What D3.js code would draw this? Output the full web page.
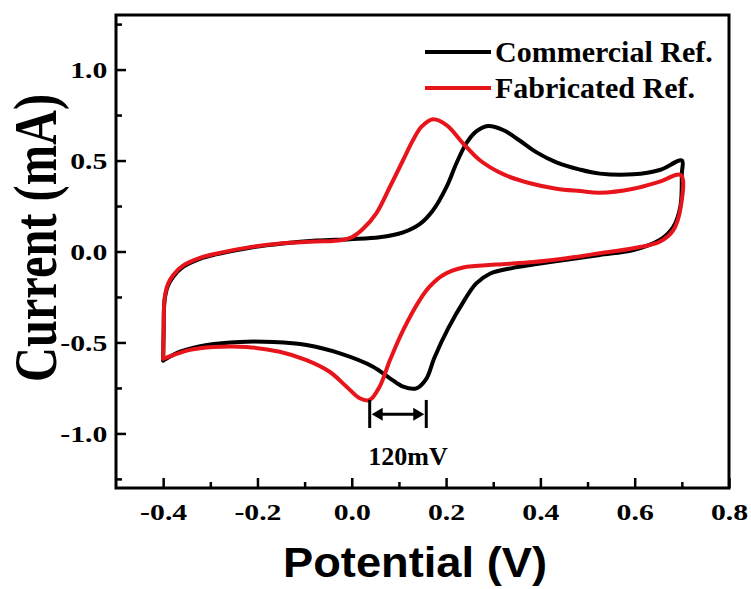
<!DOCTYPE html>
<html>
<head>
<meta charset="utf-8">
<script src="https://cdn.jsdelivr.net/npm/d3@7"></script>
<style>
  html, body { margin: 0; padding: 0; background: #ffffff; }
  svg { display: block; }
</style>
</head>
<body>
<svg id="chart" width="751" height="589"></svg>
<script>
// ---------- data ----------
const seriesNames = ["Commercial Ref.", "Fabricated Ref."];
const seriesColors = ["#000000", "#e8141c"];

// Commercial reference electrode: anodic sweep (-0.4 -> 0.7 V) then cathodic sweep back
const commercialV = [
  -0.400, -0.399, -0.397, -0.390, -0.379, -0.358, -0.322, -0.288, -0.216, -0.146, -0.075, -0.004,
   0.059,  0.109,  0.144,  0.172,  0.201,  0.222,  0.243,  0.264,  0.289,  0.321,  0.356,  0.392,
   0.434,  0.484,  0.526,  0.597,  0.653,  0.700,
   0.700,  0.697,  0.682,  0.653,  0.597,  0.526,  0.455,  0.385,  0.342,  0.293,  0.264,  0.239,
   0.205,  0.175,  0.158,  0.137,  0.109,  0.081,  0.045, -0.025, -0.096, -0.166, -0.237, -0.307,
  -0.364, -0.400
];
const commercialI = [
  -0.600, -0.450, -0.270, -0.190, -0.140, -0.085, -0.040, -0.016,  0.021,  0.044,  0.060,  0.068,
   0.078,  0.105,  0.150,  0.225,  0.355,  0.485,  0.595,  0.660,  0.690,  0.668,  0.610,  0.545,
   0.490,  0.450,  0.428,  0.424,  0.448,  0.500,
   0.430,  0.250,  0.136,  0.063,  0.008, -0.019, -0.045, -0.072, -0.090, -0.122, -0.175, -0.267,
  -0.420, -0.585, -0.700, -0.752, -0.743, -0.697, -0.633, -0.560, -0.514, -0.498, -0.497, -0.514,
  -0.551, -0.600
];

// Fabricated reference electrode
const fabricatedV = [
  -0.400, -0.399, -0.397, -0.390, -0.379, -0.358, -0.322, -0.288, -0.216, -0.146, -0.075, -0.045,
  -0.020,  0.000,  0.024,  0.052,  0.081,  0.109,  0.130,  0.148,  0.172,  0.201,  0.236,  0.271,
   0.321,  0.378,  0.434,  0.484,  0.526,  0.597,  0.653,  0.698,
   0.698,  0.682,  0.653,  0.597,  0.526,  0.455,  0.385,  0.307,  0.236,  0.194,  0.165,  0.144,
   0.109,  0.081,  0.059,  0.038,  0.017, -0.011, -0.047, -0.096, -0.153, -0.223, -0.294, -0.343,
  -0.400
];
const fabricatedI = [
  -0.590, -0.440, -0.260, -0.180, -0.130, -0.078, -0.035, -0.012,  0.024,  0.045,  0.055,  0.057,
   0.063,  0.078,  0.125,  0.210,  0.356,  0.503,  0.613,  0.686,  0.727,  0.695,  0.595,  0.503,
   0.425,  0.375,  0.345,  0.332,  0.323,  0.345,  0.384,  0.420,
   0.250,  0.118,  0.054,  0.018, -0.010, -0.037, -0.058, -0.072, -0.088, -0.129, -0.193, -0.267,
  -0.432, -0.597, -0.743, -0.816, -0.807, -0.743, -0.661, -0.597, -0.551, -0.525, -0.525, -0.541,
  -0.590
];

const xTickValues = [-0.4, -0.2, 0.0, 0.2, 0.4, 0.6, 0.8];
const xTickLabels = ["-0.4", "-0.2", "0.0", "0.2", "0.4", "0.6", "0.8"];
const xMinorTicks = [-0.3, -0.1, 0.1, 0.3, 0.5, 0.7];
const yTickValues = [-1.0, -0.5, 0.0, 0.5, 1.0];
const yTickLabels = ["-1.0", "-0.5", "0.0", "0.5", "1.0"];
const yMinorTicks = [-1.25, -0.75, -0.25, 0.25, 0.75, 1.25];

const xTitle = "Potential (V)";
const yTitle = "Current (mA)";
const annotationText = "120mV";
const separation = [0.038, 0.158];   // peak-to-peak separation shown (V)

// ---------- layout ----------
const svg = d3.select("#chart");
const mLeft = 116, mRight = 729, mTop = 15, mBottom = 488;
const x = d3.scaleLinear().domain([-0.5, 0.8]).range([mLeft, mRight]);
const y = d3.scaleLinear().domain([-1.3, 1.3]).range([mBottom, mTop]);
const serif = "'Liberation Serif', 'Times New Roman', serif";
const sans = "'Liberation Sans', Arial, sans-serif";

// curves
const line = d3.line()
  .x(d => x(d[0])).y(d => y(d[1]))
  .curve(d3.curveCatmullRom.alpha(0.5));
const series = [
  d3.zip(commercialV, commercialI),
  d3.zip(fabricatedV, fabricatedI)
];
svg.append("g").selectAll("path").data(series).join("path")
  .attr("d", line)
  .attr("fill", "none")
  .attr("stroke", (d, i) => seriesColors[i])
  .attr("stroke-width", 4)
  .attr("stroke-linejoin", "round")
  .attr("stroke-linecap", "round");

// frame
svg.append("rect")
  .attr("x", mLeft).attr("y", mTop)
  .attr("width", mRight - mLeft).attr("height", mBottom - mTop)
  .attr("fill", "none").attr("stroke", "#000").attr("stroke-width", 3);

// x axis (inward ticks)
const gx = svg.append("g").attr("transform", `translate(0,${mBottom})`);
gx.call(d3.axisBottom(x).tickValues(xTickValues).tickSize(-10)
  .tickFormat((d, i) => xTickLabels[i]));
gx.append("g").call(d3.axisBottom(x).tickValues(xMinorTicks).tickSize(-6).tickFormat(""));
gx.selectAll(".domain").remove();
gx.selectAll(".tick line").attr("stroke", "#000").attr("stroke-width", 2.5);
gx.selectAll(".tick text")
  .attr("y", 32).attr("dy", 0)
  .attr("transform", "scale(1.24,1)")
  .style("font-family", serif).style("font-weight", "bold")
  .style("font-size", "24px").attr("fill", "#000");

// y axis (inward ticks)
const gy = svg.append("g").attr("transform", `translate(${mLeft},0)`);
gy.call(d3.axisLeft(y).tickValues(yTickValues).tickSize(-10)
  .tickFormat((d, i) => yTickLabels[i]));
gy.append("g").call(d3.axisLeft(y).tickValues(yMinorTicks).tickSize(-6).tickFormat(""));
gy.selectAll(".domain").remove();
gy.selectAll(".tick line").attr("stroke", "#000").attr("stroke-width", 2.5);
gy.selectAll(".tick text")
  .attr("x", -7).attr("dy", "0.35em")
  .attr("transform", "scale(1.24,1)")
  .style("font-family", serif).style("font-weight", "bold")
  .style("font-size", "24px").attr("fill", "#000");

// axis titles
svg.append("text")
  .attr("x", 415).attr("y", 577)
  .attr("text-anchor", "middle")
  .attr("textLength", 264).attr("lengthAdjust", "spacingAndGlyphs")
  .style("font-family", sans).style("font-weight", "bold").style("font-size", "42px")
  .text(xTitle);

svg.append("text")
  .attr("transform", "translate(56,238) scale(1.29,1) rotate(-90)")
  .attr("text-anchor", "middle")
  .attr("textLength", 288).attr("lengthAdjust", "spacingAndGlyphs")
  .style("font-family", serif).style("font-weight", "bold").style("font-size", "47px")
  .text(yTitle);

// legend
const legend = svg.append("g");
const legendY = [52, 88];
seriesNames.forEach((name, i) => {
  legend.append("line")
    .attr("x1", 425).attr("x2", 491)
    .attr("y1", legendY[i]).attr("y2", legendY[i])
    .attr("stroke", seriesColors[i]).attr("stroke-width", 4);
  legend.append("text")
    .attr("x", 495).attr("y", legendY[i] + 10)
    .style("font-family", serif).style("font-weight", "bold").style("font-size", "30px")
    .attr("fill", "#000")
    .text(name);
});

// annotation: peak separation
const ann = svg.append("g").attr("stroke", "#000").attr("fill", "#000");
const xa = x(separation[0]), xb = x(separation[1]);
const barTop = y(-0.816), barBot = y(-0.97), arrowY = y(-0.895);
[xa, xb].forEach(xx => {
  ann.append("line").attr("x1", xx).attr("x2", xx)
    .attr("y1", barTop).attr("y2", barBot).attr("stroke-width", 3);
});
ann.append("line").attr("x1", xa + 6).attr("x2", xb - 6)
  .attr("y1", arrowY).attr("y2", arrowY).attr("stroke-width", 3);
ann.append("path")
  .attr("stroke", "none")
  .attr("d", `M${xa + 2},${arrowY} L${xa + 13},${arrowY - 6.5} L${xa + 13},${arrowY + 6.5} Z`);
ann.append("path")
  .attr("stroke", "none")
  .attr("d", `M${xb - 2},${arrowY} L${xb - 13},${arrowY - 6.5} L${xb - 13},${arrowY + 6.5} Z`);

svg.append("text")
  .attr("x", x((separation[0] + separation[1]) / 2) + 10)
  .attr("y", y(-1.175))
  .attr("text-anchor", "middle")
  .style("font-family", serif).style("font-weight", "bold").style("font-size", "26px")
  .text(annotationText);
</script>
</body>
</html>
